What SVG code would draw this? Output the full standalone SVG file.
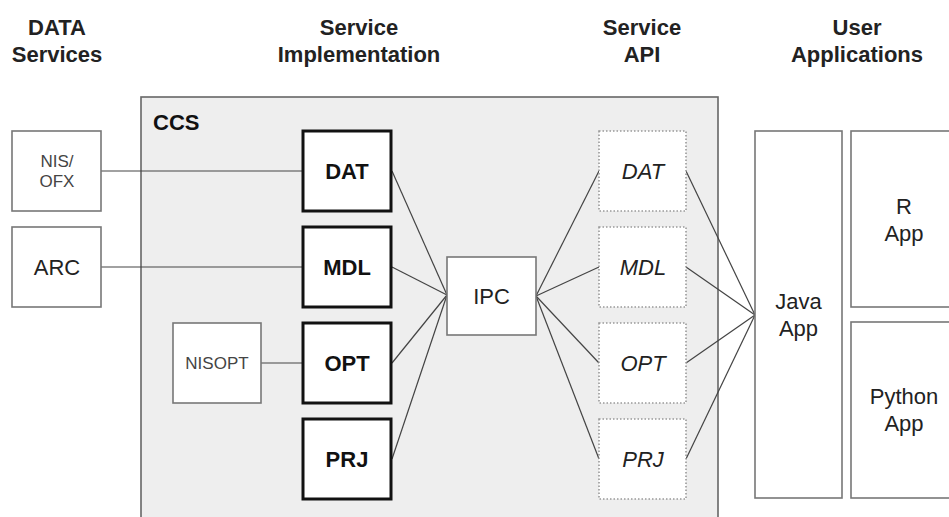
<svg xmlns="http://www.w3.org/2000/svg" width="949" height="517" viewBox="0 0 949 517">
  <style>
    text { font-family: "Liberation Sans", Arial, sans-serif; fill: #111; }
    .hdr { font-size: 22px; font-weight: bold; text-anchor: middle; fill: #222; }
    .lbl { font-size: 22px; text-anchor: middle; fill: #222; }
    .bold { font-weight: bold; fill: #111; }
    .ital { font-style: italic; }
    .small { font-size: 17px; text-anchor: middle; fill: #444; }
    .box { fill: #fff; stroke: #777; stroke-width: 1.6; }
    .impl { fill: #fff; stroke: #111; stroke-width: 3; }
    .api { fill: #fff; stroke: #999; stroke-width: 1.6; stroke-dasharray: 1.5 2; }
    .ccs { fill: #eeeeee; stroke: #666; stroke-width: 1.6; }
    .conn line { stroke: #444; stroke-width: 1.2; }
  </style>

  <!-- column headings -->
  <g id="headings">
    <text class="hdr" x="57" y="35">DATA</text>
    <text class="hdr" x="57" y="62">Services</text>
    <text class="hdr" x="359" y="35">Service</text>
    <text class="hdr" x="359" y="62">Implementation</text>
    <text class="hdr" x="642" y="35">Service</text>
    <text class="hdr" x="642" y="62">API</text>
    <text class="hdr" x="857" y="35">User</text>
    <text class="hdr" x="857" y="62">Applications</text>
  </g>

  <!-- CCS container -->
  <g id="ccs">
    <rect class="ccs" x="141" y="97" width="577" height="430"/>
    <text class="bold" x="153" y="130" font-size="22">CCS</text>
  </g>

  <!-- connectors -->
  <g id="connectors" class="conn">
    <line x1="101" y1="171" x2="303" y2="171"/>
    <line x1="101" y1="267" x2="303" y2="267"/>
    <line x1="261" y1="363" x2="303" y2="363"/>

    <line x1="392" y1="171" x2="447" y2="295"/>
    <line x1="392" y1="267" x2="447" y2="295"/>
    <line x1="392" y1="363" x2="447" y2="295"/>
    <line x1="392" y1="459" x2="447" y2="295"/>

    <line x1="536" y1="296" x2="599" y2="171"/>
    <line x1="536" y1="296" x2="599" y2="267"/>
    <line x1="536" y1="296" x2="599" y2="363"/>
    <line x1="536" y1="296" x2="599" y2="459"/>

    <line x1="686" y1="171" x2="755" y2="315"/>
    <line x1="686" y1="267" x2="755" y2="315"/>
    <line x1="686" y1="363" x2="755" y2="315"/>
    <line x1="686" y1="459" x2="755" y2="315"/>
  </g>

  <!-- data services -->
  <g id="nis-ofx">
    <rect class="box" x="12" y="131" width="89" height="80"/>
    <text class="small" x="57" y="167">NIS/</text>
    <text class="small" x="57" y="187">OFX</text>
  </g>
  <g id="arc">
    <rect class="box" x="12" y="227" width="89" height="80"/>
    <text class="lbl" x="57" y="275">ARC</text>
  </g>
  <g id="nisopt">
    <rect class="box" x="173" y="323" width="88" height="80"/>
    <text class="small" x="217" y="369" font-size="16.5">NISOPT</text>
  </g>

  <!-- service implementations -->
  <g id="impl-dat">
    <rect class="impl" x="303" y="131" width="88" height="80"/>
    <text class="lbl bold" x="347" y="179">DAT</text>
  </g>
  <g id="impl-mdl">
    <rect class="impl" x="303" y="227" width="88" height="80"/>
    <text class="lbl bold" x="347" y="275">MDL</text>
  </g>
  <g id="impl-opt">
    <rect class="impl" x="303" y="323" width="88" height="80"/>
    <text class="lbl bold" x="347" y="371">OPT</text>
  </g>
  <g id="impl-prj">
    <rect class="impl" x="303" y="419" width="88" height="80"/>
    <text class="lbl bold" x="347" y="467">PRJ</text>
  </g>

  <!-- IPC -->
  <g id="ipc">
    <rect class="box" x="447" y="257" width="89" height="78"/>
    <text class="lbl" x="491.5" y="304">IPC</text>
  </g>

  <!-- service API -->
  <g id="api-dat">
    <rect class="api" x="599" y="131" width="87" height="80"/>
    <text class="lbl ital" x="643" y="179">DAT</text>
  </g>
  <g id="api-mdl">
    <rect class="api" x="599" y="227" width="87" height="80"/>
    <text class="lbl ital" x="643" y="275">MDL</text>
  </g>
  <g id="api-opt">
    <rect class="api" x="599" y="323" width="87" height="80"/>
    <text class="lbl ital" x="643" y="371">OPT</text>
  </g>
  <g id="api-prj">
    <rect class="api" x="599" y="419" width="87" height="80"/>
    <text class="lbl ital" x="643" y="467">PRJ</text>
  </g>

  <!-- user applications -->
  <g id="java-app">
    <rect class="box" x="755" y="131" width="87" height="367"/>
    <text class="lbl" x="798.5" y="309">Java</text>
    <text class="lbl" x="798.5" y="336">App</text>
  </g>
  <g id="r-app">
    <rect class="box" x="851" y="131" width="110" height="176"/>
    <text class="lbl" x="904" y="214">R</text>
    <text class="lbl" x="904" y="241">App</text>
  </g>
  <g id="python-app">
    <rect class="box" x="851" y="322" width="110" height="176"/>
    <text class="lbl" x="904" y="404">Python</text>
    <text class="lbl" x="904" y="431">App</text>
  </g>
</svg>
